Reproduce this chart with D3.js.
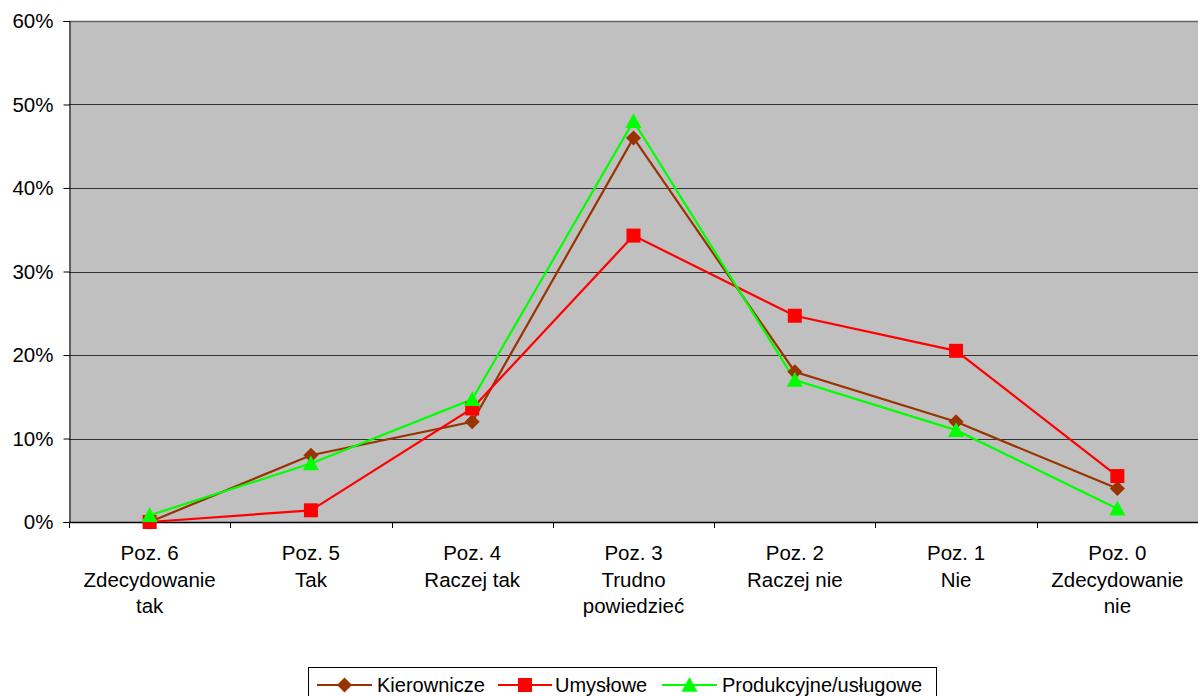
<!DOCTYPE html>
<html>
<head>
<meta charset="utf-8">
<script src="https://cdn.jsdelivr.net/npm/d3@7"></script>
<style>
  html, body { margin: 0; padding: 0; background: #fff; }
  svg { display: block; font-family: "Liberation Sans", Arial, sans-serif; }
</style>
</head>
<body>
<svg id="chart" width="1198" height="696"></svg>
<script>
// Category labels (each label is split into lines)
const categories = [
  ["Poz. 6", "Zdecydowanie", "tak"],
  ["Poz. 5", "Tak"],
  ["Poz. 4", "Raczej tak"],
  ["Poz. 3", "Trudno", "powiedzieć"],
  ["Poz. 2", "Raczej nie"],
  ["Poz. 1", "Nie"],
  ["Poz. 0", "Zdecydowanie", "nie"]
];
const seriesNames = ["Kierownicze", "Umysłowe", "Produkcyjne/usługowe"];
const kierownicze = [0, 8, 12, 46, 18, 12, 4];
const umyslowe = [0, 1.4, 13.6, 34.3, 24.7, 20.5, 5.5];
const produkcyjne = [0.8, 7, 14.7, 48, 17, 11, 1.6];
const yTicks = [0, 10, 20, 30, 40, 50, 60];

const series = [
  { name: seriesNames[0], values: kierownicze, color: "#993300", shape: "diamond" },
  { name: seriesNames[1], values: umyslowe, color: "#FF0000", shape: "square" },
  { name: seriesNames[2], values: produkcyjne, color: "#00FF00", shape: "triangle" }
];

const AXIS_FONT = 20.5;
const LEGEND_FONT = 20;
const svg = d3.select("#chart");
const plot = { left: 69, right: 1198, top: 21, bottom: 522 };

const x = d3.scaleBand()
  .domain(d3.range(categories.length))
  .range([plot.left, plot.right])
  .paddingInner(0).paddingOuter(0);
const y = d3.scaleLinear().domain([0, 60]).range([plot.bottom, plot.top]);

// plot background
svg.append("rect")
  .attr("x", plot.left).attr("y", plot.top)
  .attr("width", plot.right - plot.left).attr("height", plot.bottom - plot.top)
  .attr("fill", "#C0C0C0");

// horizontal gridlines
svg.append("g").selectAll("line")
  .data(yTicks.filter(t => t > 0))
  .join("line")
  .attr("x1", plot.left).attr("x2", plot.right)
  .attr("y1", d => Math.round(y(d)) + 0.5).attr("y2", d => Math.round(y(d)) + 0.5)
  .attr("stroke", d => d === 60 ? "#666" : "#333")
  .attr("stroke-width", d => d === 60 ? 1.5 : 1);

// y axis
const yAxis = d3.axisLeft(y)
  .tickValues(yTicks)
  .tickFormat(d => d + "%")
  .tickSize(6).tickPadding(10);
const gy = svg.append("g")
  .attr("transform", `translate(${plot.left + 0.5},0)`)
  .call(yAxis);
gy.select(".domain").attr("stroke", "#000");
gy.selectAll(".tick line").attr("stroke", "#000");
gy.selectAll(".tick text")
  .attr("font-size", AXIS_FONT).attr("fill", "#000")
  .attr("font-family", "Liberation Sans, Arial, sans-serif");

// x axis line and ticks between categories
const gx = svg.append("g");
gx.append("line")
  .attr("x1", plot.left).attr("x2", plot.right)
  .attr("y1", plot.bottom + 0.5).attr("y2", plot.bottom + 0.5)
  .attr("stroke", "#000").attr("stroke-width", 1.5);
gx.selectAll("line.tick")
  .data(d3.range(categories.length + 1))
  .join("line").attr("class", "tick")
  .attr("x1", i => Math.round(plot.left + i * x.bandwidth()) + 0.5)
  .attr("x2", i => Math.round(plot.left + i * x.bandwidth()) + 0.5)
  .attr("y1", plot.bottom).attr("y2", plot.bottom + 6)
  .attr("stroke", "#000");

// category labels
const labels = gx.selectAll("text.cat")
  .data(categories)
  .join("text").attr("class", "cat")
  .attr("text-anchor", "middle")
  .attr("font-size", AXIS_FONT).attr("fill", "#000")
  .attr("transform", (d, i) => `translate(${x(i) + x.bandwidth() / 2},${plot.bottom + 38})`);
labels.selectAll("tspan")
  .data(d => d)
  .join("tspan")
  .attr("x", 0)
  .attr("dy", (d, i) => i === 0 ? 0 : 26.5)
  .text(d => d);

const cx = i => x(i) + x.bandwidth() / 2;

function drawMarker(g, shape, color, size) {
  if (shape === "diamond") {
    const s = size * 0.75;
    g.append("path").attr("d", `M0,${-s}L${s},0L0,${s}L${-s},0Z`).attr("fill", color);
  } else if (shape === "square") {
    const s = size * 0.7;
    g.append("rect").attr("x", -s).attr("y", -s).attr("width", 2 * s).attr("height", 2 * s).attr("fill", color);
  } else {
    const s = size * 0.8;
    g.append("path").attr("d", `M0,${-s}L${s},${s * 0.85}L${-s},${s * 0.85}Z`).attr("fill", color);
  }
}

// lines and markers
const line = d3.line().x((d, i) => cx(i)).y(d => y(d));
series.forEach(s => {
  svg.append("path")
    .datum(s.values)
    .attr("d", line)
    .attr("fill", "none")
    .attr("stroke", s.color)
    .attr("stroke-width", 2.2);
});
series.forEach(s => {
  s.values.forEach((v, i) => {
    const g = svg.append("g").attr("transform", `translate(${cx(i)},${y(v)})`);
    drawMarker(g, s.shape, s.color, 10);
  });
});

// legend
const legend = svg.append("g");
legend.append("rect")
  .attr("x", 308.5).attr("y", 667.5).attr("width", 628).attr("height", 40)
  .attr("fill", "#fff").attr("stroke", "#000").attr("stroke-width", 1);
const legendItems = [
  { s: series[0], x1: 317, x2: 372, tx: 377 },
  { s: series[1], x1: 498, x2: 552, tx: 555 },
  { s: series[2], x1: 662, x2: 717, tx: 722 }
];
legendItems.forEach(it => {
  const ly = 685;
  legend.append("line")
    .attr("x1", it.x1).attr("x2", it.x2)
    .attr("y1", ly).attr("y2", ly)
    .attr("stroke", it.s.color).attr("stroke-width", 2.2);
  const g = legend.append("g").attr("transform", `translate(${(it.x1 + it.x2) / 2},${ly})`);
  drawMarker(g, it.s.shape, it.s.color, 10);
  legend.append("text")
    .attr("x", it.tx).attr("y", ly + 7)
    .attr("font-size", LEGEND_FONT).attr("fill", "#000")
    .text(it.s.name);
});
</script>
</body>
</html>
